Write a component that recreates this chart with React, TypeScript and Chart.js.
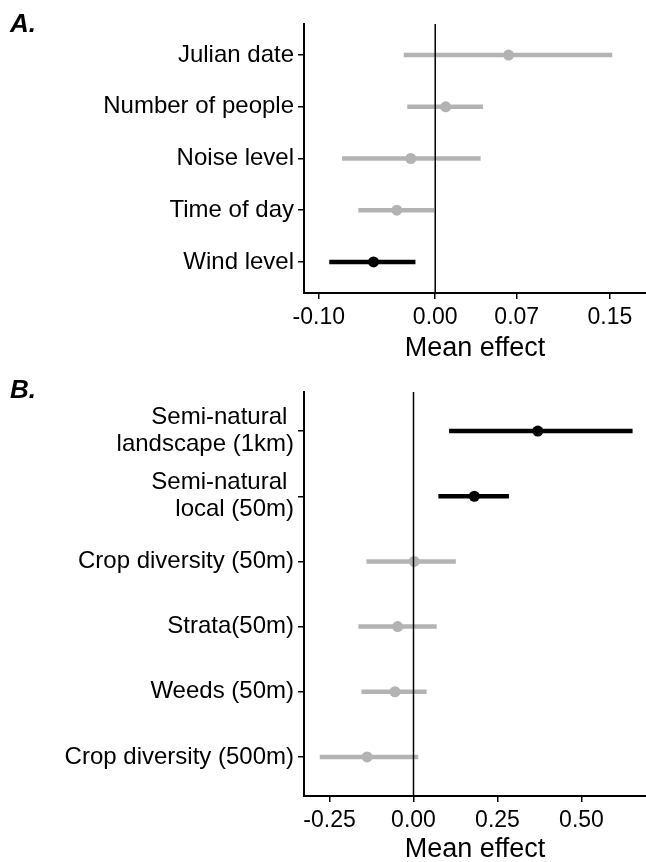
import React, { useEffect, useRef } from "react";
import { Chart, registerables } from "chart.js";

Chart.register(...registerables);

const FONT = "'Liberation Sans', Arial, Helvetica, sans-serif";
const GRAY = "#b3b3b3";
const BLACK = "#000000";

// Panel A (rows listed top to bottom)
const labelsA: (string | string[])[] = ["Julian date", "Number of people", "Noise level", "Time of day", "Wind level"];
const meanA = [0.063, 0.009, -0.021, -0.033, -0.053];
const lowA = [-0.027, -0.024, -0.080, -0.066, -0.091];
const highA = [0.152, 0.041, 0.039, -0.001, -0.017];
const sigA = [false, false, false, false, true];
const xTicksA = [-0.1, 0, 0.07, 0.15];
const xTickLabelsA = ["-0.10", "0.00", "0.07", "0.15"];

// Panel B (rows listed top to bottom)
const labelsB: (string | string[])[] = [
  ["Semi-natural ", "landscape (1km)"],
  ["Semi-natural ", "local (50m)"],
  "Crop diversity (50m)",
  "Strata(50m)",
  "Weeds (50m)",
  "Crop diversity (500m)",
];
const meanB = [0.37, 0.181, 0.002, -0.047, -0.055, -0.138];
const lowB = [0.106, 0.074, -0.14, -0.164, -0.155, -0.279];
const highB = [0.652, 0.284, 0.126, 0.069, 0.039, 0.014];
const sigB = [true, true, false, false, false, false];
const xTicksB = [-0.25, 0, 0.25, 0.5];
const xTickLabelsB = ["-0.25", "0.00", "0.25", "0.50"];

type PanelProps = {
  labels: (string | string[])[];
  mean: number[];
  low: number[];
  high: number[];
  sig: boolean[];
  xTicks: number[];
  xTickLabels: string[];
  xMin: number;
  xMax: number;
  width: number;
  height: number;
  areaTop: number;
  areaBottom: number;
  titlePad: number;
};

function ForestPanel(p: PanelProps) {
  const ref = useRef<HTMLCanvasElement | null>(null);
  useEffect(() => {
    if (!ref.current) return;
    const n = p.labels.length;
    const yOf = (i: number) => n - i;
    const datasets: any[] = [];
    datasets.push({
      data: [
        { x: 0, y: 0.4 },
        { x: 0, y: n + 0.6 },
      ],
      showLine: true,
      borderColor: BLACK,
      borderWidth: 1.5,
      pointRadius: 0,
      order: 0,
    });
    datasets.push({
      data: p.mean.map((m, i) => ({ x: m, y: yOf(i) })),
      showLine: false,
      pointRadius: 5.5,
      pointBackgroundColor: p.sig.map((s) => (s ? BLACK : GRAY)),
      pointBorderColor: p.sig.map((s) => (s ? BLACK : GRAY)),
      pointBorderWidth: 0,
      order: 1,
    });
    p.low.forEach((l, i) => {
      datasets.push({
        data: [
          { x: l, y: yOf(i) },
          { x: p.high[i], y: yOf(i) },
        ],
        showLine: true,
        borderColor: p.sig[i] ? BLACK : GRAY,
        borderWidth: 4.5,
        borderCapStyle: "butt",
        pointRadius: 0,
        order: 2,
      });
    });

    const chart = new Chart(ref.current, {
      type: "scatter",
      data: { datasets },
      options: {
        animation: false,
        responsive: false,
        events: [],
        layout: { autoPadding: false, padding: { top: p.areaTop, left: 0, right: 0, bottom: 0 } },
        plugins: { legend: { display: false }, tooltip: { enabled: false } },
        scales: {
          x: {
            type: "linear",
            min: p.xMin,
            max: p.xMax,
            afterBuildTicks: (s: any) => {
              s.ticks = p.xTicks.map((v) => ({ value: v }));
            },
            afterFit: (s: any) => {
              s.height = p.height - p.areaBottom;
              s.paddingLeft = 0;
              s.paddingRight = 0;
            },
            ticks: {
              callback: (_v: any, idx: number) => p.xTickLabels[idx],
              font: { family: FONT, size: 23 },
              color: BLACK,
              padding: 5,
              maxRotation: 0,
              autoSkip: false,
            },
            grid: { drawOnChartArea: false, drawTicks: true, tickLength: 6, color: BLACK, lineWidth: 1.5 },
            border: { display: true, color: BLACK, width: 2 },
            title: {
              display: true,
              text: "Mean effect",
              font: { family: FONT, size: 27 },
              color: BLACK,
              padding: { top: 0, bottom: p.titlePad },
            },
          },
          y: {
            type: "linear",
            min: 0.4,
            max: n + 0.6,
            afterBuildTicks: (s: any) => {
              const t: any[] = [];
              for (let v = 1; v <= n; v++) t.push({ value: v });
              s.ticks = t;
            },
            afterFit: (s: any) => {
              s.width = 304;
              s.paddingTop = 0;
              s.paddingBottom = 0;
            },
            ticks: {
              callback: (v: any) => p.labels[n - Number(v)],
              font: { family: FONT, size: 24, lineHeight: 1.12 },
              color: BLACK,
              padding: 4,
              autoSkip: false,
            },
            grid: { drawOnChartArea: false, drawTicks: true, tickLength: 6, color: BLACK, lineWidth: 1.5 },
            border: { display: true, color: BLACK, width: 2 },
          },
        },
      } as any,
    });
    return () => chart.destroy();
  }, []);
  return <canvas ref={ref} width={p.width} height={p.height} style={{ display: "block" }} />;
}

const panelLetter: React.CSSProperties = {
  position: "absolute",
  left: 10,
  fontFamily: FONT,
  fontWeight: "bold",
  fontStyle: "italic",
  fontSize: 26,
  lineHeight: "26px",
  color: BLACK,
};

export default function App() {
  return (
    <div
      style={{
        position: "absolute",
        left: 0,
        top: 0,
        width: 646,
        height: 862,
        overflow: "hidden",
        background: "#fff",
      }}
    >
      <div style={{ position: "absolute", left: 0, top: 0 }}>
        <ForestPanel
          labels={labelsA}
          mean={meanA}
          low={lowA}
          high={highA}
          sig={sigA}
          xTicks={xTicksA}
          xTickLabels={xTickLabelsA}
          xMin={-0.1127}
          xMax={0.181}
          width={646}
          height={380}
          areaTop={24}
          areaBottom={293}
          titlePad={14.8}
        />
      </div>
      <div style={{ position: "absolute", left: 0, top: 380 }}>
        <ForestPanel
          labels={labelsB}
          mean={meanB}
          low={lowB}
          high={highB}
          sig={sigB}
          xTicks={xTicksB}
          xTickLabels={xTickLabelsB}
          xMin={-0.3259}
          xMax={0.692}
          width={646}
          height={500}
          areaTop={12}
          areaBottom={416}
          titlePad={14.2}
        />
      </div>
      <div style={{ ...panelLetter, top: 10 }}>A.</div>
      <div style={{ ...panelLetter, top: 376 }}>B.</div>
    </div>
  );
}
